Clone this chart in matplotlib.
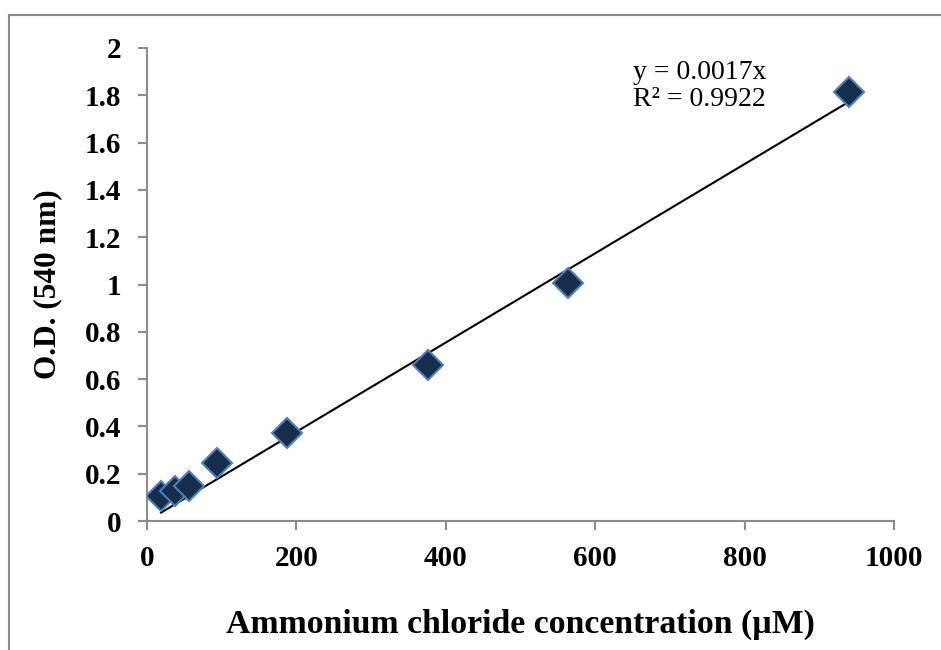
import numpy as np
import matplotlib
matplotlib.use("Agg")
import matplotlib.pyplot as plt
from matplotlib.lines import Line2D

# Data
conc = [18.8, 37.6, 56.4, 94, 188, 376, 564, 940]
od = [0.106, 0.127, 0.148, 0.245, 0.373, 0.660, 1.005, 1.812]
xticks = [0, 200, 400, 600, 800, 1000]
yticks = [0, 0.2, 0.4, 0.6, 0.8, 1.0, 1.2, 1.4, 1.6, 1.8, 2.0]
ytick_labels = ["0", "0.2", "0.4", "0.6", "0.8", "1", "1.2", "1.4", "1.6", "1.8", "2"]
eq_text = "y = 0.0017x\nR² = 0.9922"

plt.rcParams['font.family'] = ['Liberation Serif', 'DejaVu Serif']

fig = plt.figure(figsize=(9.41, 6.5), dpi=100)
ax = fig.add_axes([147/941, 1 - 521/650, (894 - 147)/941, (521 - 48)/650])

# outer border (chart area frame)
fig.add_artist(Line2D([9/941, 1.0], [1 - 15/650, 1 - 15/650], transform=fig.transFigure,
                      color='#8c8c8c', lw=1.5))
fig.add_artist(Line2D([9/941, 9/941], [1 - 15/650, 0.0], transform=fig.transFigure,
                      color='#8c8c8c', lw=1.5))

# trendline through origin (least squares)
x = np.array(conc)
y = np.array(od)
slope = np.sum(x * y) / np.sum(x * x)
ax.plot([x.min(), x.max()], [slope * x.min(), slope * x.max()], color='black', lw=1.5, zorder=2)

ax.plot(conc, od, linestyle='none', marker='D', markersize=15.5,
        markerfacecolor='#172d4c', markeredgecolor='#4f7fb8', markeredgewidth=1.5, zorder=3)

ax.set_xlim(0, 1000)
ax.set_ylim(0, 2)
ax.set_xticks(xticks)
ax.set_xticklabels([str(t) for t in xticks])
ax.set_yticks(yticks)
ax.set_yticklabels(ytick_labels)

for s in ['top', 'right']:
    ax.spines[s].set_visible(False)
for s in ['left', 'bottom']:
    ax.spines[s].set_color('#8c8c8c')
    ax.spines[s].set_linewidth(1.5)

ax.tick_params(axis='both', direction='out', length=6.5, width=1.5, color='#8c8c8c',
               labelsize=21)
ax.tick_params(axis='x', pad=11)
ax.tick_params(axis='y', pad=12)
for lab in ax.get_xticklabels() + ax.get_yticklabels():
    lab.set_fontweight('bold')

ax.set_xlabel("Ammonium chloride concentration (µM)", fontsize=24.3, fontweight='bold', labelpad=26)
ax.set_ylabel("O.D. (540 nm)", fontsize=22.5, fontweight='bold', labelpad=16)

ax.text(633/941, 1 - 60/650, eq_text, transform=fig.transFigure, fontsize=20,
        ha='left', va='top', linespacing=1.1)

fig.savefig("out.png", dpi=100)
